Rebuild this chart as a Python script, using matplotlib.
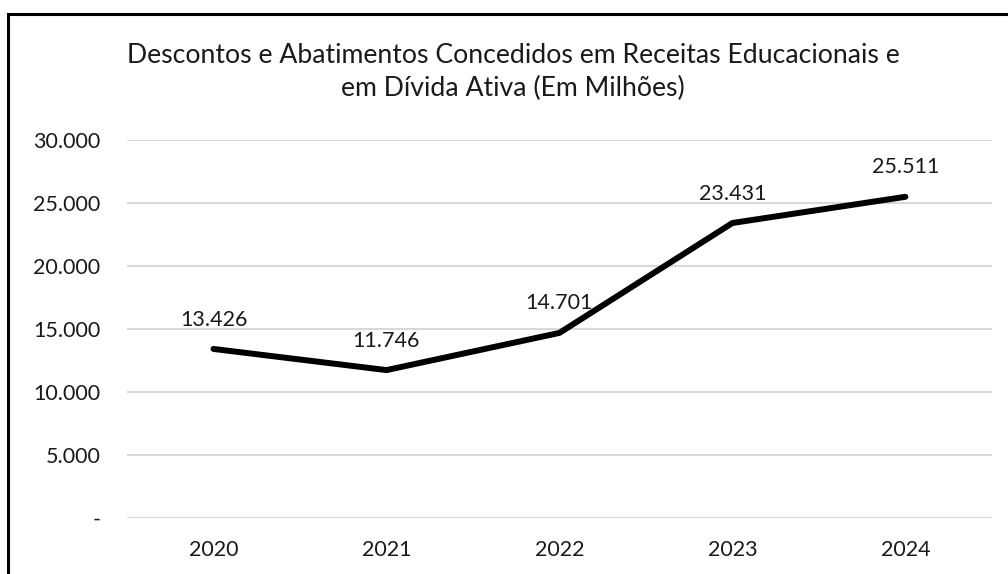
import matplotlib.pyplot as plt
from matplotlib.patches import Rectangle
from matplotlib.ticker import FuncFormatter

plt.rcParams['font.family'] = ['Lato', 'DejaVu Sans']

# dados (em milhões)
anos = ['2020', '2021', '2022', '2023', '2024']
valores = [13426, 11746, 14701, 23431, 25511]
rotulos = ['13.426', '11.746', '14.701', '23.431', '25.511']
titulo = 'Descontos e Abatimentos Concedidos em Receitas Educacionais e\nem Dívida Ativa (Em Milhões)'


def fmt_milhar(v, pos):
    if v == 0:
        return '-'
    return '{:,.0f}'.format(v).replace(',', '.')


fig = plt.figure(figsize=(10.08, 5.74), dpi=100)
ax = fig.add_axes([0.126, 0.0976, 0.858, 0.658])

x = list(range(len(anos)))
ax.plot(x, valores, color='black', linewidth=4.3, solid_capstyle='round', zorder=3)
for xi, v, r in zip(x, valores, rotulos):
    ax.annotate(r, (xi, v), xytext=(0, 14), textcoords='offset points',
                ha='center', va='bottom', fontsize=15.5, color='#1a1a1a')

ax.set_xlim(-0.5, len(anos) - 0.5)
ax.set_ylim(0, 30000)
ax.set_yticks(range(0, 30001, 5000))
ax.yaxis.set_major_formatter(FuncFormatter(fmt_milhar))
ax.set_xticks(x)
ax.set_xticklabels(anos)
ax.grid(axis='y', color='#d9d9d9', linewidth=1.5)
ax.set_axisbelow(True)
for s in ax.spines.values():
    s.set_visible(False)
ax.tick_params(axis='both', length=0, labelsize=15.5, labelcolor='#1a1a1a')
ax.tick_params(axis='y', pad=19)
ax.tick_params(axis='x', pad=16)

fig.text(0.509, 0.874, titulo, ha='center', va='center', fontsize=19.2,
         color='#1a1a1a', linespacing=1.4)

# moldura do gráfico
fig.patches.append(Rectangle((8 / 1008, -0.1), 1.2, 0.1 + 1 - 14 / 574,
                             transform=fig.transFigure, fill=False,
                             edgecolor='black', linewidth=2.2))

fig.savefig('out.png', dpi=100)
